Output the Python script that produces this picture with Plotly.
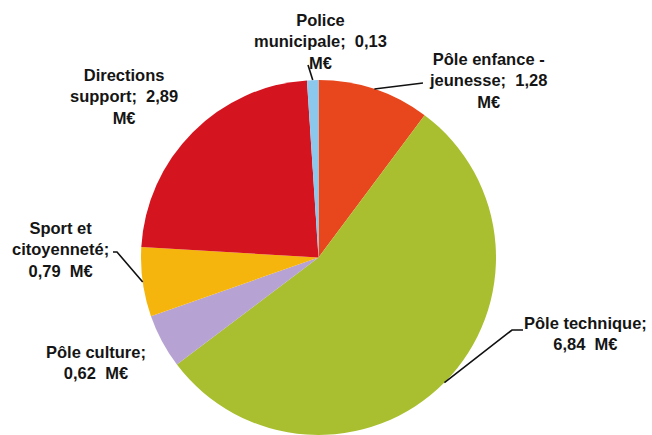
import math
import plotly.graph_objects as go

# ---- data ----
categories = ["Pôle enfance - jeunesse", "Pôle technique", "Pôle culture",
              "Sport et citoyenneté", "Directions support", "Police municipale"]
values = [1.28, 6.84, 0.62, 0.79, 2.89, 0.13]
label_texts = [
    "Pôle enfance -<br>jeunesse;  1,28<br>M€",
    "Pôle technique;<br>6,84  M€",
    "Pôle culture;<br>0,62  M€",
    "Sport et<br>citoyenneté;<br>0,79  M€",
    "Directions<br>support;  2,89<br>M€",
    "Police<br>municipale;  0,13<br>M€",
]
colors = ["#E8461C", "#A9BF2F", "#B6A2D3", "#F6B50C", "#D4141F", "#8CC7EC"]

# ---- layout (pixels) ----
W, H = 652, 435
cx, cy, R = 318.5, 257.5, 177.5
dom_x = [(cx - R) / W, (cx + R) / W]
dom_y = [0, (H - (cy - R)) / H]

# label centers (pixels) and leader-line bends (pixels) per slice; None = no line
label_pos = [(488, 80), (585, 333), (96, 362), (60, 249), (124, 96), (320, 41)]
leaders = [
    [(423, 83)],
    [(512, 330), (523, 330)],
    None,
    [(117, 252), (113, 252)],
    None,
    [(308, 65)],
]


def px(x, y):
    return x / W, 1 - y / H


fig = go.Figure(go.Pie(
    labels=categories, values=values, sort=False, direction="clockwise",
    rotation=0, marker=dict(colors=colors, line=dict(width=0)),
    textinfo="none", hoverinfo="label+value", showlegend=False,
    domain=dict(x=dom_x, y=dom_y),
))

total = sum(values)
cum = 0
shapes = []
for v, lead in zip(values, leaders):
    mid = (cum + v / 2) / total * 2 * math.pi
    cum += v
    if lead is None:
        continue
    sx = cx + R * math.sin(mid)
    sy = cy - R * math.cos(mid)
    pts = [(sx, sy)] + lead
    path = "M " + " L ".join(f"{px(x, y)[0]:.5f},{px(x, y)[1]:.5f}" for x, y in pts)
    shapes.append(dict(type="path", xref="paper", yref="paper", path=path,
                       line=dict(color="#111111", width=1.6)))

annotations = []
for t, (x, y) in zip(label_texts, label_pos):
    annotations.append(dict(
        text=f"<b>{t}</b>", x=px(x, y)[0], y=px(x, y)[1], xref="paper", yref="paper",
        xanchor="center", yanchor="middle", showarrow=False, align="center",
        font=dict(family="Liberation Sans, Arial, sans-serif", size=16.5, color="#151515"),
    ))

fig.update_layout(
    width=W, height=H, margin=dict(l=0, r=0, t=0, b=0),
    paper_bgcolor="white", plot_bgcolor="white",
    shapes=shapes, annotations=annotations,
)

fig.write_html("out.html", config={"displayModeBar": False},
               post_script="document.body.style.margin='0';")
